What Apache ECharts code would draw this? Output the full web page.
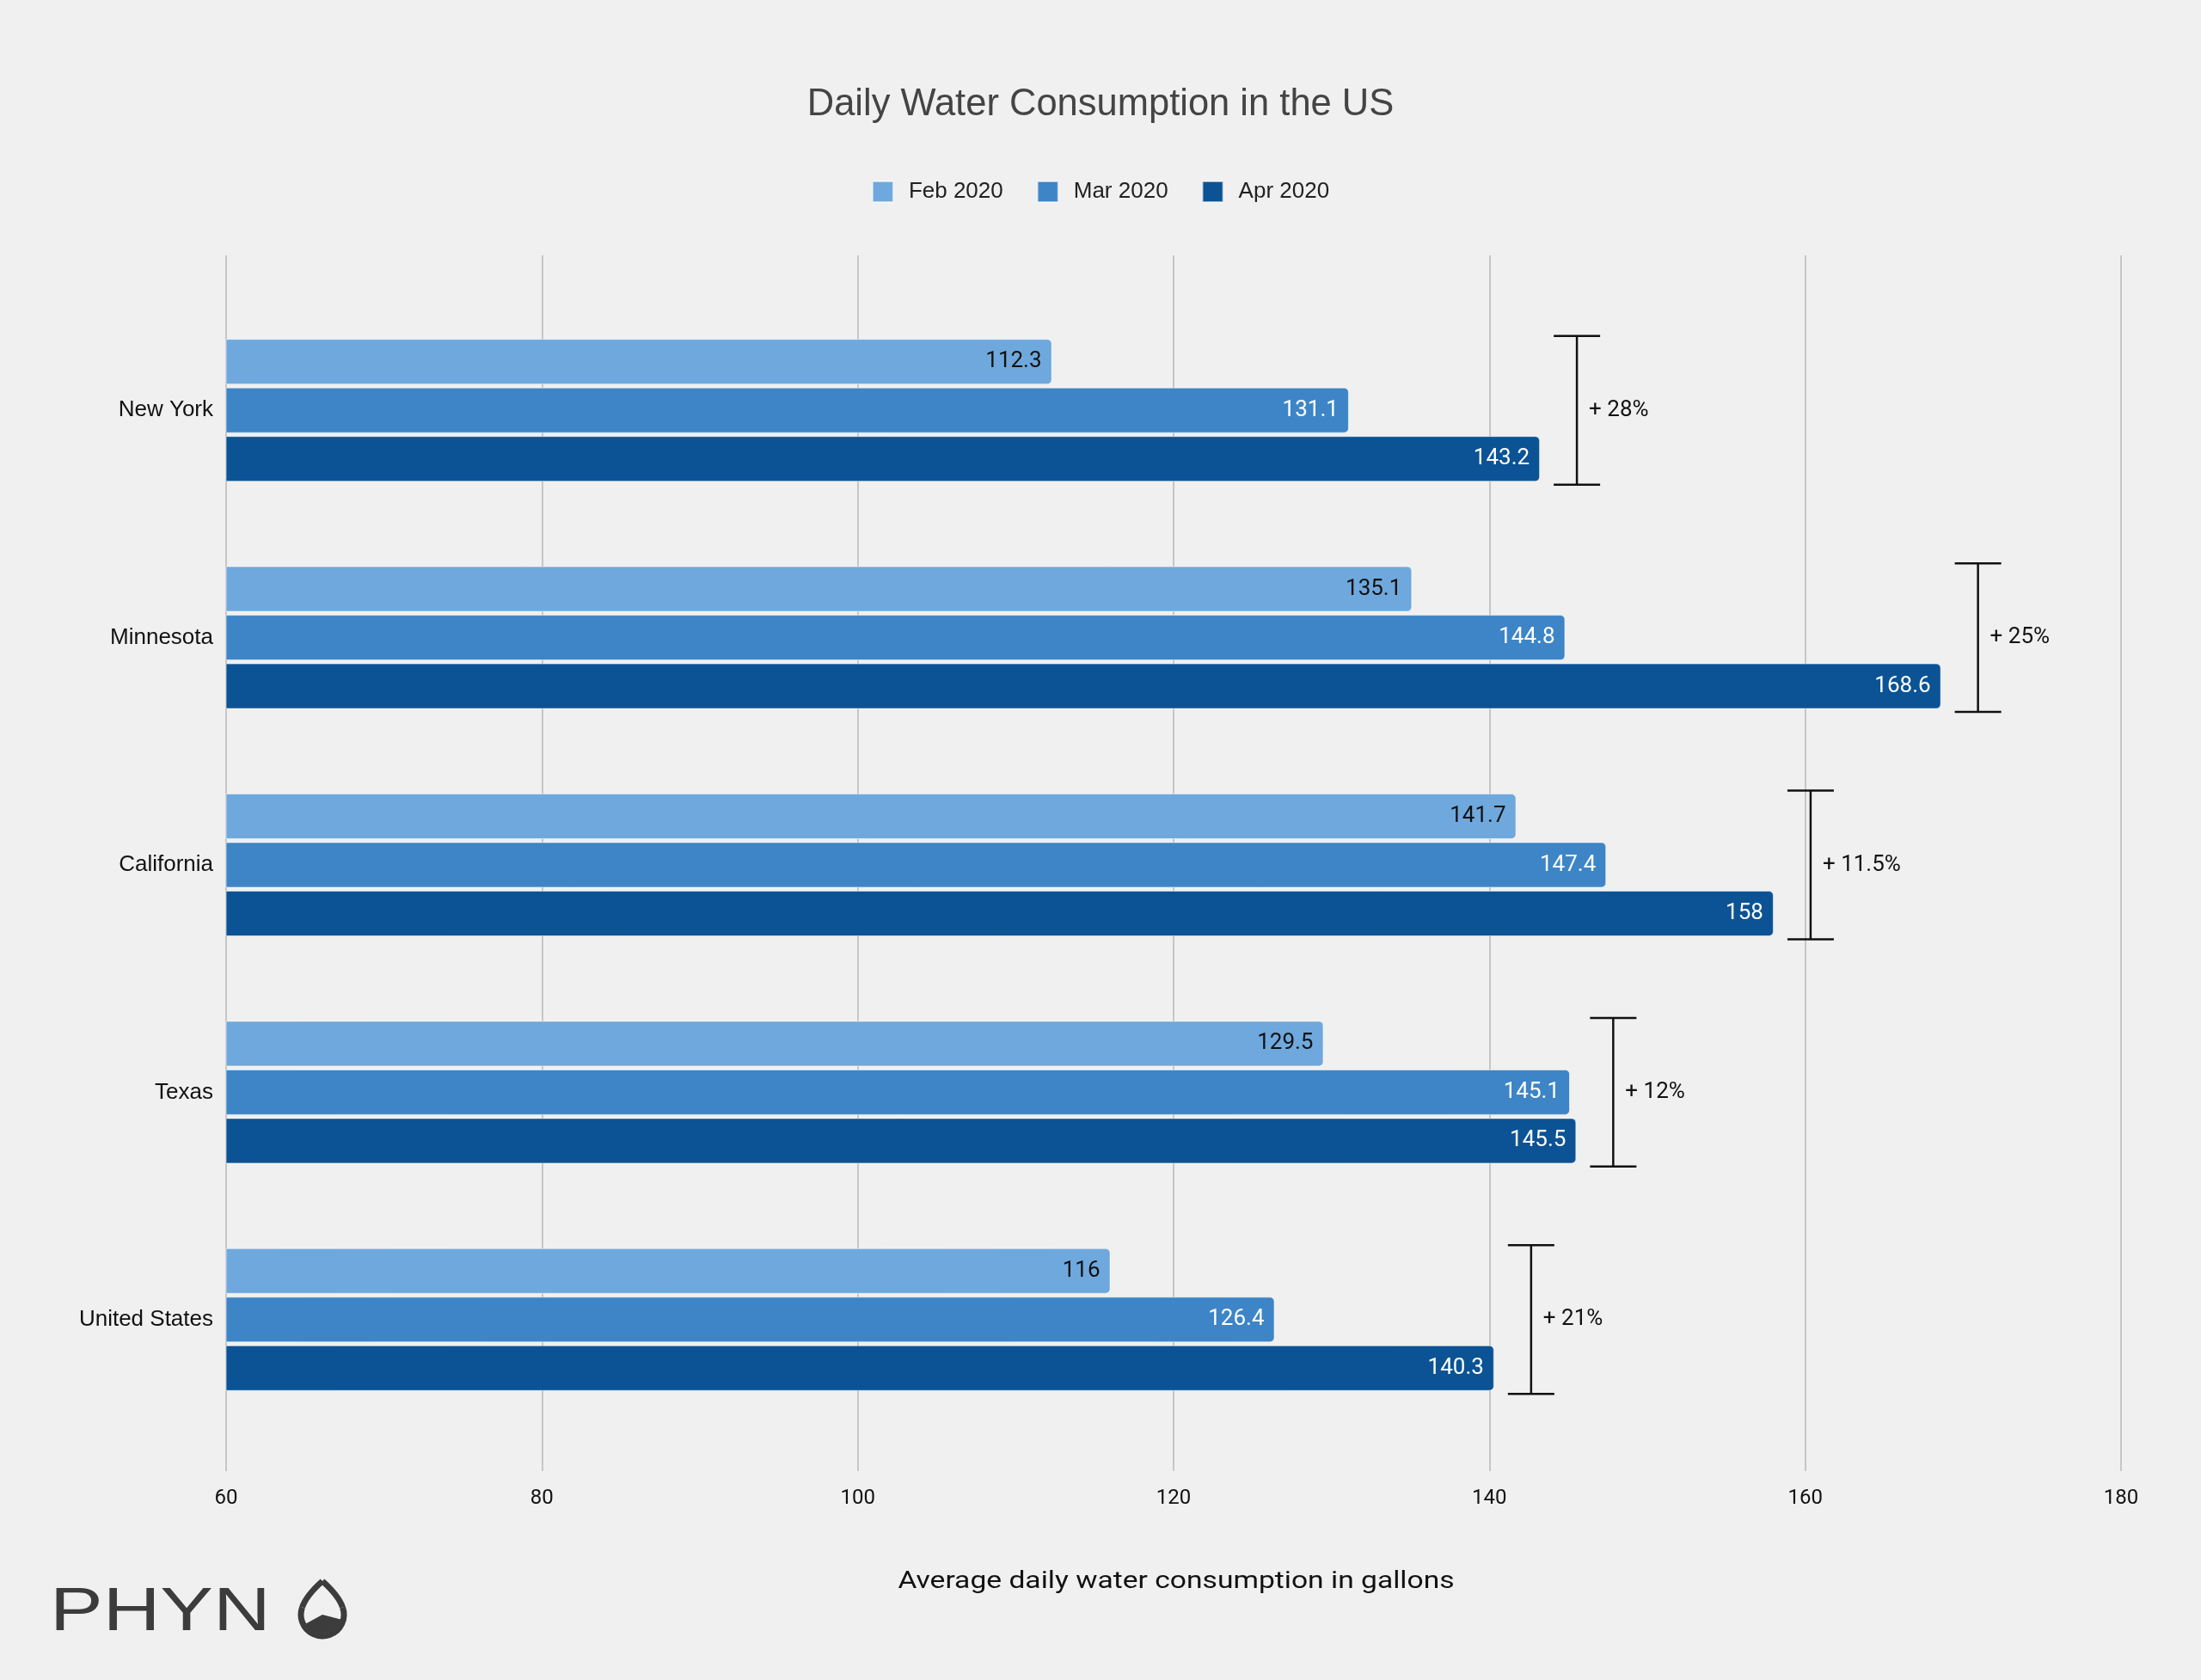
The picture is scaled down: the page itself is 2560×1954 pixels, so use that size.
<!DOCTYPE html>
<html>
<head>
<meta charset="utf-8">
<script src="https://cdn.jsdelivr.net/npm/echarts@6/dist/echarts.min.js"></script>
<style>html,body{margin:0;padding:0;background:#f0f0f0;}#c{width:2560px;height:1954px;}</style>
</head>
<body>
<div id="c"></div>
<script>
const categories = ['New York', 'Minnesota', 'California', 'Texas', 'United States'];
const seriesNames = ['Feb 2020', 'Mar 2020', 'Apr 2020'];
const feb2020 = [112.3, 135.1, 141.7, 129.5, 116];
const mar2020 = [131.1, 144.8, 147.4, 145.1, 126.4];
const apr2020 = [143.2, 168.6, 158, 145.5, 140.3];
const changeLabels = ['+ 28%', '+ 25%', '+ 11.5%', '+ 12%', '+ 21%'];
const xTicks = [60, 80, 100, 120, 140, 160, 180];
const xAxisTitle = 'Average daily water consumption in gallons';

const colors = ['#6fa8dc', '#3d85c6', '#0b5394'];
const labelColors = ['#111111', '#ffffff', '#ffffff'];
const values = [feb2020, mar2020, apr2020];

const chart = echarts.init(document.getElementById('c'), null, {renderer: 'canvas'});

const barSeries = values.map((vals, i) => ({
  name: seriesNames[i],
  type: 'bar',
  xAxisIndex: 0,
  yAxisIndex: 0,
  data: vals,
  barWidth: 53,
  barGap: '6.6%',
  itemStyle: {color: colors[i], borderRadius: [0, 5, 5, 0], borderColor: 'rgba(255,255,255,0.55)', borderWidth: 1},
  label: {
    show: true, position: 'insideRight', distance: 12,
    color: labelColors[i], fontSize: 26, fontFamily: 'Roboto'
  },
  emphasis: {disabled: true}
}));

const bracketData = categories.map((c, i) => [Math.max(feb2020[i], mar2020[i], apr2020[i]), i]);

const bracketSeries = {
  type: 'custom',
  xAxisIndex: 0,
  yAxisIndex: 0,
  data: bracketData,
  encode: {x: 0, y: 1},
  silent: true,
  z: 5,
  renderItem: function (params, api) {
    const pt = api.coord([api.value(0), api.value(1)]);
    const band = api.size([0, 1])[1];
    const x = pt[0] + 43;
    const h = band * 0.327;
    const st = {stroke: '#111111', lineWidth: 2.5};
    return {
      type: 'group',
      children: [
        {type: 'line', shape: {x1: x, y1: pt[1] - h, x2: x, y2: pt[1] + h}, style: st},
        {type: 'line', shape: {x1: x - 27, y1: pt[1] - h, x2: x + 27, y2: pt[1] - h}, style: st},
        {type: 'line', shape: {x1: x - 27, y1: pt[1] + h, x2: x + 27, y2: pt[1] + h}, style: st},
        {type: 'text', style: {text: changeLabels[params.dataIndex], x: x + 14, y: pt[1], verticalAlign: 'middle', align: 'left', fill: '#111111', fontSize: 26, fontFamily: 'Roboto'}}
      ]
    };
  }
};

const option = {
  backgroundColor: '#f0f0f0',
  animation: false,
  title: {
    text: 'Daily Water Consumption in the US',
    left: 'center', top: 95,
    textStyle: {fontFamily: 'Liberation Sans', fontSize: 43.5, fontWeight: 'normal', color: '#444444'}
  },
  legend: {
    data: seriesNames,
    left: 'center', top: 205,
    icon: 'rect', itemWidth: 24, itemHeight: 24, itemGap: 39,
    textStyle: {fontFamily: 'Liberation Sans', fontSize: 26, color: '#222222', padding: [0, 0, 0, 13]}
  },
  grid: [
    {left: 263, right: 93, top: 345, bottom: 287},
    {left: 263, right: 93, top: 297, bottom: 243}
  ],
  xAxis: [
    {type: 'value', gridIndex: 0, min: 60, max: 180, interval: 20, show: false, splitLine: {show: false}},
    {
      type: 'value', gridIndex: 1, min: xTicks[0], max: xTicks[xTicks.length - 1], interval: 20,
      axisLine: {show: false}, axisTick: {show: false},
      axisLabel: {color: '#111111', fontSize: 24, fontFamily: 'Roboto', margin: 20},
      splitLine: {show: true, lineStyle: {color: '#c6c6c6', width: 2}}
    }
  ],
  yAxis: [
    {
      type: 'category', gridIndex: 0, data: categories, inverse: true,
      axisLine: {show: false}, axisTick: {show: false},
      axisLabel: {color: '#111111', fontSize: 26, fontFamily: 'Liberation Sans', margin: 15},
      splitLine: {show: false}
    },
    {type: 'value', gridIndex: 1, show: false, splitLine: {show: false}}
  ],
  series: barSeries.concat([bracketSeries]),
  graphic: [
    {type: 'text', x: 1368, y: 1840, scaleX: 1.2, originX: 0, originY: 0,
     style: {text: xAxisTitle, fontSize: 28, fontFamily: 'Roboto', fill: '#111111', align: 'center', verticalAlign: 'middle'}},
    {type: 'text', x: 58, y: 1842, scaleX: 1.32, style: {text: 'PHYN', fontSize: 70, fontFamily: 'Liberation Sans', fill: '#3c3c3c'}},
    {type: 'arc', shape: {cx: 375, cy: 1878, r: 25, startAngle: -0.35, endAngle: Math.PI + 0.35, clockwise: true}, style: {stroke: '#3c3c3c', lineWidth: 7, fill: 'none'}},
    {type: 'bezierCurve', shape: {x1: 398.5, y1: 1869.5, cpx1: 394, cpy1: 1856, x2: 375, y2: 1839}, style: {stroke: '#3c3c3c', lineWidth: 7, fill: 'none'}},
    {type: 'bezierCurve', shape: {x1: 351.5, y1: 1869.5, cpx1: 356, cpy1: 1856, x2: 375, y2: 1839}, style: {stroke: '#3c3c3c', lineWidth: 7, fill: 'none'}},
    {type: 'sector', shape: {cx: 375, cy: 1878, r: 22, r0: 0, startAngle: 0.25, endAngle: Math.PI - 0.5}, style: {fill: '#3c3c3c'}}
  ]
};
chart.setOption(option);
</script>
</body>
</html>
